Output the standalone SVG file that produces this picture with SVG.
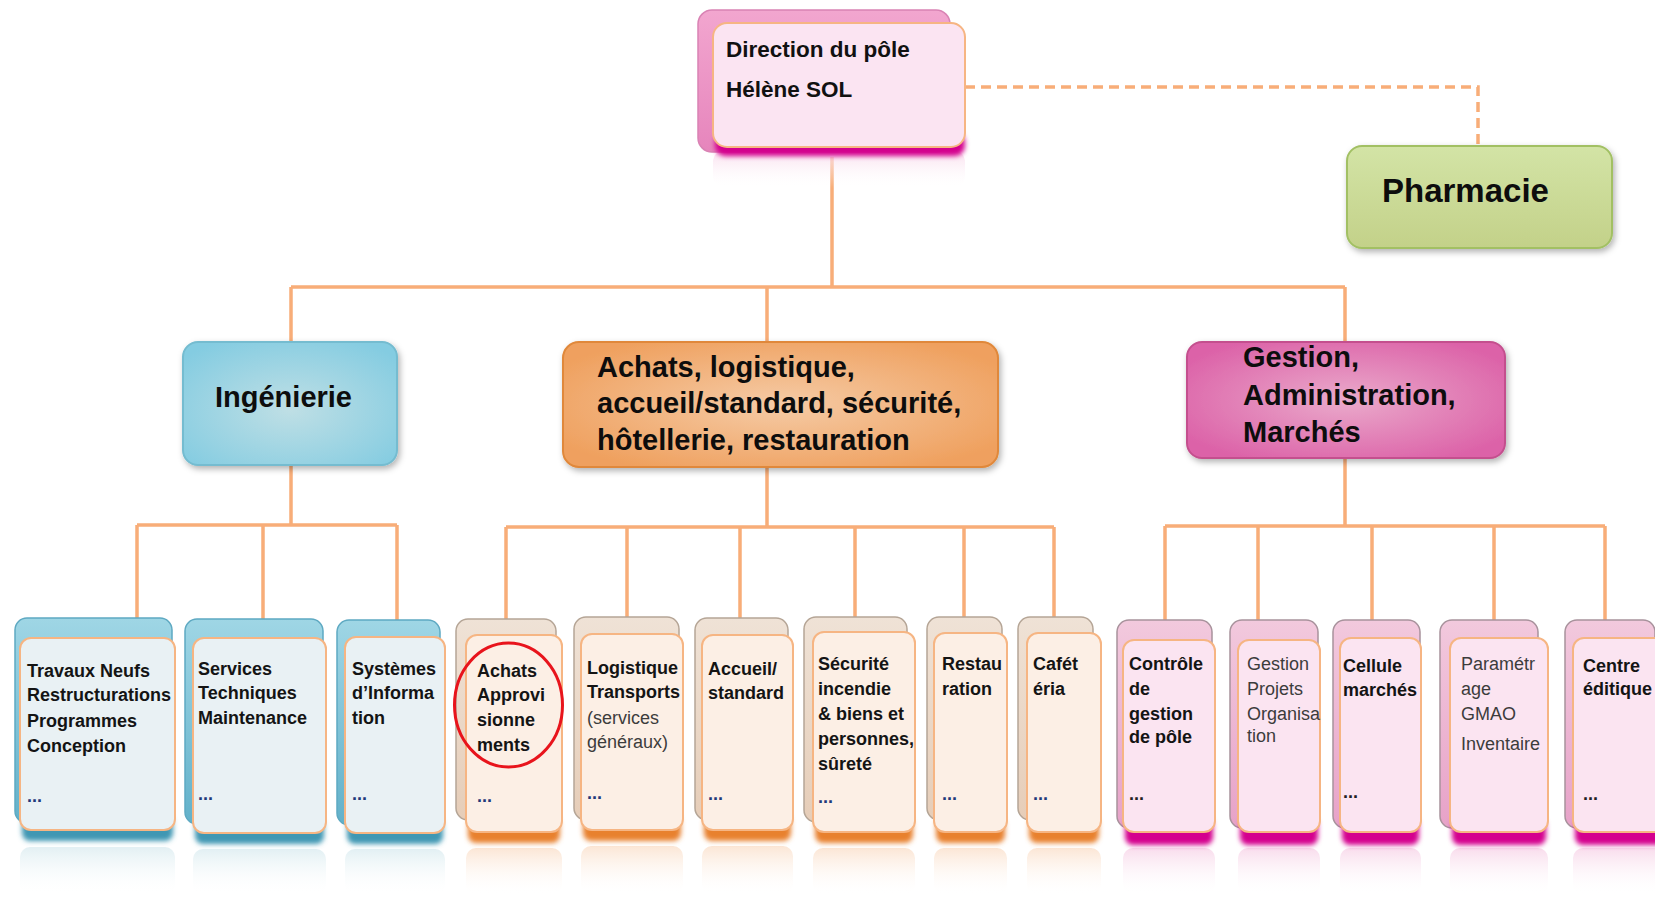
<svg xmlns="http://www.w3.org/2000/svg" width="1655" height="897" viewBox="0 0 1655 897">
<defs>
<style>
.conn{fill:none;stroke:#f8ad78;stroke-width:3.5}
.dash{fill:none;stroke:#f8ad78;stroke-width:3.5;stroke-dasharray:10 6}
.front{stroke:#f6b583;stroke-width:2}
.fb{fill:#e9f1f4}.fo{fill:#fcefe5}.fp{fill:#fbe4f1}
.bb{fill:url(#backBlue);stroke:#5ea9c2;stroke-width:1.5}
.bo{fill:url(#backOrange);stroke:#b5a596;stroke-width:1.5}
.bp{fill:url(#backPink);stroke:#a8929c;stroke-width:1.5}
.sb{fill:#3f97b3}.so{fill:#e8812e}.sp{fill:#d4048e}
.t{font-family:"Liberation Sans",Arial,sans-serif;font-size:18px;font-weight:bold;fill:#141414}
.r{font-weight:normal;fill:#3c3c3c}
.dots{font-family:"Liberation Sans",Arial,sans-serif;font-size:18px;font-weight:bold;fill:#1f3a7a}
.dk{fill:#222}
.big{font-family:"Liberation Sans",Arial,sans-serif;font-size:29px;font-weight:bold;fill:#0d0d0d}
.ph{font-size:33px}
</style>
<filter id="blur" x="-20%" y="-50%" width="140%" height="200%"><feGaussianBlur stdDeviation="2.5"/></filter>
<filter id="drop" x="-10%" y="-10%" width="125%" height="135%"><feDropShadow dx="2" dy="3" stdDeviation="3" flood-color="#000" flood-opacity="0.3"/></filter>
<linearGradient id="backBlue" x1="0" y1="0" x2="0" y2="1"><stop offset="0" stop-color="#9fd6e5"/><stop offset="1" stop-color="#62b1ca"/></linearGradient>
<linearGradient id="backOrange" x1="0" y1="0" x2="0" y2="1"><stop offset="0" stop-color="#efe2d6"/><stop offset="1" stop-color="#e6cdb8"/></linearGradient>
<linearGradient id="backPink" x1="0" y1="0" x2="0" y2="1"><stop offset="0" stop-color="#f2c9dd"/><stop offset="1" stop-color="#e7a2c8"/></linearGradient>
<linearGradient id="backDir" x1="0" y1="0" x2="0" y2="1"><stop offset="0" stop-color="#f2a6cf"/><stop offset="1" stop-color="#e685bc"/></linearGradient>
<radialGradient id="gBlue" cx="0.5" cy="0.55" r="0.65"><stop offset="0" stop-color="#bfdfe5"/><stop offset="1" stop-color="#84cce1"/></radialGradient>
<radialGradient id="gOrange" cx="0.5" cy="0.5" r="0.6"><stop offset="0" stop-color="#f5cba6"/><stop offset="1" stop-color="#efa05e"/></radialGradient>
<radialGradient id="gPink" cx="0.5" cy="0.5" r="0.6"><stop offset="0" stop-color="#eaaacb"/><stop offset="1" stop-color="#dc62a8"/></radialGradient>
<linearGradient id="gGreen" x1="0" y1="0" x2="0" y2="1"><stop offset="0" stop-color="#d3e4a6"/><stop offset="1" stop-color="#c3d189"/></linearGradient>
<linearGradient id="rBlue" x1="0" y1="0" x2="0" y2="1"><stop offset="0" stop-color="#dfeef2" stop-opacity="0.9"/><stop offset="1" stop-color="#ffffff" stop-opacity="0"/></linearGradient>
<linearGradient id="rOrange" x1="0" y1="0" x2="0" y2="1"><stop offset="0" stop-color="#fbe3d0" stop-opacity="0.9"/><stop offset="1" stop-color="#ffffff" stop-opacity="0"/></linearGradient>
<linearGradient id="rPink" x1="0" y1="0" x2="0" y2="1"><stop offset="0" stop-color="#f8d8ea" stop-opacity="0.9"/><stop offset="1" stop-color="#ffffff" stop-opacity="0"/></linearGradient>
</defs>
<rect width="1655" height="897" fill="#ffffff"/>

<g id="connectors">
<path class="dash" d="M965 87 H1478 V145"/>
<path class="conn" d="M832 157 V287 M291 287 H1345 M291 287 V342 M767 287 V342 M1345 287 V342"/>
<path class="conn" d="M291 465 V525 M137 525 H397 M137 525 V618 M263 525 V619 M397 525 V620"/>
<path class="conn" d="M767 467 V527 M506 527 H1054 M506 527 V619 M627 527 V617 M740 527 V618 M855 527 V617 M964 527 V617 M1054 527 V617"/>
<path class="conn" d="M1345 458 V526 M1165 526 H1605 M1165 526 V620 M1258 526 V620 M1372 526 V620 M1494 526 V620 M1605 526 V620"/>
</g>

<g id="node-direction">
<rect x="713" y="150" width="252" height="38" rx="12" fill="url(#rPink)"/>
<rect x="698" y="10" width="252" height="142" rx="14" fill="url(#backDir)" stroke="#d983b4" stroke-width="1.5"/>
<rect x="715" y="132" width="250" height="24" rx="10" class="sp" filter="url(#blur)"/>
<rect x="713" y="23" width="252" height="124" rx="14" class="front" fill="#fbe4f2"/>
<text x="726" y="57" font-family="Liberation Sans,Arial,sans-serif" font-size="22.5" font-weight="bold" fill="#111">Direction du pôle</text>
<text x="726" y="97" font-family="Liberation Sans,Arial,sans-serif" font-size="22.5" font-weight="bold" fill="#111">Hélène SOL</text>
</g>

<g id="node-pharmacie">
<rect x="1347" y="146" width="265" height="102" rx="15" fill="url(#gGreen)" stroke="#a2c064" stroke-width="2" filter="url(#drop)"/>
<text x="1382" y="202" class="big ph">Pharmacie</text>
</g>

<g id="node-ingenierie">
<rect x="183" y="342" width="214" height="123" rx="15" fill="url(#gBlue)" stroke="#74bcd0" stroke-width="2" filter="url(#drop)"/>
<text x="215" y="407" class="big">Ingénierie</text>
</g>

<g id="node-achats">
<rect x="563" y="342" width="435" height="125" rx="16" fill="url(#gOrange)" stroke="#e0883a" stroke-width="2" filter="url(#drop)"/>
<text class="big"><tspan x="597" y="377">Achats, logistique,</tspan><tspan x="597" y="413">accueil/standard, sécurité,</tspan><tspan x="597" y="450">hôtellerie,  restauration</tspan></text>
</g>

<g id="node-gestion">
<rect x="1187" y="342" width="318" height="116" rx="15" fill="url(#gPink)" stroke="#c4508e" stroke-width="2" filter="url(#drop)"/>
<text class="big"><tspan x="1243" y="367">Gestion,</tspan><tspan x="1243" y="405">Administration,</tspan><tspan x="1243" y="442">Marchés</tspan></text>
</g>

<!-- Ingénierie children -->
<g id="node-travaux">
<rect x="20" y="847" width="155" height="48" rx="10" fill="url(#rBlue)"/>
<rect x="15" y="618" width="157" height="205" rx="12" class="bb"/>
<rect x="22" y="815" width="151" height="26" rx="8" class="sb" filter="url(#blur)"/>
<rect x="20" y="638" width="155" height="192" rx="11" class="front fb"/>
<text class="t"><tspan x="27" y="677">Travaux Neufs</tspan><tspan x="27" y="701">Restructurations</tspan><tspan x="27" y="727">Programmes</tspan><tspan x="27" y="752">Conception</tspan></text>
<text x="27" y="802" class="dots">...</text>
</g>
<g id="node-services">
<rect x="193" y="849" width="133" height="46" rx="10" fill="url(#rBlue)"/>
<rect x="185" y="619" width="138" height="205" rx="12" class="bb"/>
<rect x="195" y="818" width="129" height="26" rx="8" class="sb" filter="url(#blur)"/>
<rect x="193" y="638" width="133" height="195" rx="11" class="front fb"/>
<text class="t"><tspan x="198" y="675">Services</tspan><tspan x="198" y="699">Techniques</tspan><tspan x="198" y="724">Maintenance</tspan></text>
<text x="198" y="800" class="dots">...</text>
</g>
<g id="node-systemes">
<rect x="345" y="849" width="100" height="46" rx="10" fill="url(#rBlue)"/>
<rect x="337" y="620" width="103" height="205" rx="12" class="bb"/>
<rect x="347" y="818" width="96" height="26" rx="8" class="sb" filter="url(#blur)"/>
<rect x="345" y="637" width="100" height="196" rx="11" class="front fb"/>
<text class="t"><tspan x="352" y="675">Systèmes</tspan><tspan x="352" y="699">d’Informa</tspan><tspan x="352" y="724">tion</tspan></text>
<text x="352" y="800" class="dots">...</text>
</g>

<!-- Achats children -->
<g id="node-achats-appro">
<rect x="466" y="848" width="96" height="47" rx="10" fill="url(#rOrange)"/>
<rect x="456" y="619" width="100" height="201" rx="12" class="bo"/>
<rect x="468" y="817" width="92" height="26" rx="8" class="so" filter="url(#blur)"/>
<rect x="466" y="635" width="96" height="197" rx="11" class="front fo"/>
<text class="t"><tspan x="477" y="677">Achats</tspan><tspan x="477" y="701">Approvi</tspan><tspan x="477" y="726">sionne</tspan><tspan x="477" y="751">ments</tspan></text>
<text x="477" y="802" class="dots">...</text>
<ellipse cx="508.5" cy="705" rx="54" ry="62" fill="none" stroke="#e8141c" stroke-width="3"/>
</g>
<g id="node-logistique">
<rect x="581" y="846" width="102" height="49" rx="10" fill="url(#rOrange)"/>
<rect x="574" y="617" width="105" height="203" rx="12" class="bo"/>
<rect x="583" y="815" width="98" height="26" rx="8" class="so" filter="url(#blur)"/>
<rect x="581" y="634" width="102" height="196" rx="11" class="front fo"/>
<text class="t"><tspan x="587" y="674">Logistique</tspan><tspan x="587" y="698">Transports</tspan><tspan x="587" y="724" class="r">(services</tspan><tspan x="587" y="748" class="r">généraux)</tspan></text>
<text x="587" y="799" class="dots">...</text>
</g>
<g id="node-accueil">
<rect x="702" y="846" width="91" height="49" rx="10" fill="url(#rOrange)"/>
<rect x="695" y="618" width="93" height="202" rx="12" class="bo"/>
<rect x="704" y="815" width="87" height="26" rx="8" class="so" filter="url(#blur)"/>
<rect x="702" y="635" width="91" height="195" rx="11" class="front fo"/>
<text class="t"><tspan x="708" y="675">Accueil/</tspan><tspan x="708" y="699">standard</tspan></text>
<text x="708" y="800" class="dots">...</text>
</g>
<g id="node-securite">
<rect x="813" y="848" width="102" height="47" rx="10" fill="url(#rOrange)"/>
<rect x="804" y="617" width="103" height="205" rx="12" class="bo"/>
<rect x="815" y="817" width="98" height="26" rx="8" class="so" filter="url(#blur)"/>
<rect x="813" y="632" width="102" height="200" rx="11" class="front fo"/>
<text class="t"><tspan x="818" y="670">Sécurité</tspan><tspan x="818" y="695">incendie</tspan><tspan x="818" y="720">&amp; biens et</tspan><tspan x="818" y="745">personnes,</tspan><tspan x="818" y="770">sûreté</tspan></text>
<text x="818" y="803" class="dots">...</text>
</g>
<g id="node-restauration">
<rect x="934" y="848" width="73" height="47" rx="10" fill="url(#rOrange)"/>
<rect x="927" y="617" width="75" height="203" rx="12" class="bo"/>
<rect x="936" y="817" width="69" height="26" rx="8" class="so" filter="url(#blur)"/>
<rect x="934" y="633" width="73" height="199" rx="11" class="front fo"/>
<text class="t"><tspan x="942" y="670">Restau</tspan><tspan x="942" y="695">ration</tspan></text>
<text x="942" y="800" class="dots">...</text>
</g>
<g id="node-cafeteria">
<rect x="1027" y="848" width="74" height="47" rx="10" fill="url(#rOrange)"/>
<rect x="1018" y="617" width="75" height="203" rx="12" class="bo"/>
<rect x="1029" y="817" width="70" height="26" rx="8" class="so" filter="url(#blur)"/>
<rect x="1027" y="633" width="74" height="199" rx="11" class="front fo"/>
<text class="t"><tspan x="1033" y="670">Cafét</tspan><tspan x="1033" y="695">éria</tspan></text>
<text x="1033" y="800" class="dots">...</text>
</g>

<!-- Gestion children -->
<g id="node-controle">
<rect x="1123" y="848" width="92" height="47" rx="10" fill="url(#rPink)"/>
<rect x="1117" y="620" width="95" height="208" rx="12" class="bp"/>
<rect x="1125" y="817" width="88" height="28" rx="8" class="sp" filter="url(#blur)"/>
<rect x="1123" y="640" width="92" height="192" rx="11" class="front fp"/>
<text class="t"><tspan x="1129" y="670">Contrôle</tspan><tspan x="1129" y="695">de</tspan><tspan x="1129" y="720">gestion</tspan><tspan x="1129" y="743">de pôle</tspan></text>
<text x="1129" y="800" class="dots dk">...</text>
</g>
<g id="node-gestion-projets">
<rect x="1238" y="848" width="82" height="47" rx="10" fill="url(#rPink)"/>
<rect x="1230" y="620" width="88" height="208" rx="12" class="bp"/>
<rect x="1240" y="817" width="78" height="28" rx="8" class="sp" filter="url(#blur)"/>
<rect x="1238" y="640" width="82" height="192" rx="11" class="front fp"/>
<text class="t r"><tspan x="1247" y="670">Gestion</tspan><tspan x="1247" y="695">Projets</tspan><tspan x="1247" y="720">Organisa</tspan><tspan x="1247" y="742">tion</tspan></text>
</g>
<g id="node-cellule">
<rect x="1340" y="848" width="81" height="47" rx="10" fill="url(#rPink)"/>
<rect x="1333" y="620" width="87" height="208" rx="12" class="bp"/>
<rect x="1342" y="817" width="77" height="28" rx="8" class="sp" filter="url(#blur)"/>
<rect x="1340" y="638" width="81" height="194" rx="11" class="front fp"/>
<text class="t"><tspan x="1343" y="672">Cellule</tspan><tspan x="1343" y="696">marchés</tspan></text>
<text x="1343" y="798" class="dots dk">...</text>
</g>
<g id="node-parametrage">
<rect x="1450" y="848" width="98" height="47" rx="10" fill="url(#rPink)"/>
<rect x="1440" y="620" width="98" height="208" rx="12" class="bp"/>
<rect x="1452" y="817" width="94" height="28" rx="8" class="sp" filter="url(#blur)"/>
<rect x="1450" y="638" width="98" height="194" rx="11" class="front fp"/>
<text class="t r"><tspan x="1461" y="670">Paramétr</tspan><tspan x="1461" y="695">age</tspan><tspan x="1461" y="720">GMAO</tspan><tspan x="1461" y="750">Inventaire</tspan></text>
</g>
<g id="node-centre">
<rect x="1573" y="848" width="97" height="47" rx="10" fill="url(#rPink)"/>
<rect x="1565" y="620" width="90" height="208" rx="12" class="bp"/>
<rect x="1575" y="817" width="93" height="28" rx="8" class="sp" filter="url(#blur)"/>
<rect x="1573" y="638" width="97" height="194" rx="11" class="front fp"/>
<text class="t"><tspan x="1583" y="672">Centre</tspan><tspan x="1583" y="695">éditique</tspan></text>
<text x="1583" y="800" class="dots dk">...</text>
</g>
</svg>
